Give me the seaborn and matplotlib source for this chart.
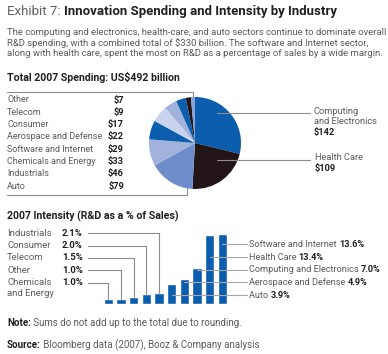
import numpy as np
import pandas as pd
import matplotlib
matplotlib.use('Agg')
import matplotlib.pyplot as plt
import seaborn as sns

# 2007 R&D spending (US$ billion), clockwise from the top of the pie
spend_industries = ['Computing and Electronics', 'Health Care', 'Auto', 'Industrials',
                    'Chemicals and Energy', 'Software and Internet', 'Aerospace and Defense',
                    'Consumer', 'Telecom', 'Other']
spend_values = [142, 109, 79, 46, 33, 29, 22, 17, 9, 7]
spend_colors = ['#0B5DAE', '#221517', '#6E8DCB', '#A1B2DD', '#0B5DAE',
                '#C9D3EE', '#A1B2DD', '#0B5DAE', '#221517', '#86A0D8']

# 2007 intensity (R&D as % of sales), ascending
intensity_industries = ['Chemicals and Energy', 'Other', 'Telecom', 'Consumer', 'Industrials',
                        'Auto', 'Aerospace and Defense', 'Computing and Electronics',
                        'Health Care', 'Software and Internet']
intensity_values = [1.0, 1.0, 1.5, 2.0, 2.1, 3.9, 4.9, 7.0, 13.4, 13.6]

title_light = 'Exhibit 7: '
title_bold = 'Innovation Spending and Intensity by Industry'
intro = ['The computing and electronics, health-care, and auto sectors continue to dominate overall',
         'R&D spending, with a combined total of $330 billion. The software and Internet sector,',
         'along with health care, spent the most on R&D as a percentage of sales by a wide margin.']

sns.set_style('white')
plt.rcParams['font.family'] = ['Roboto', 'DejaVu Sans']

W, H = 388, 354
fig = plt.figure(figsize=(W / 100, H / 100), dpi=100)
fig.patch.set_facecolor('white')


def px_box(x, y, w, h):
    return [x / W, 1 - (y + h) / H, w / W, h / H]


GRAY = '#5b5b5d'
DARK = '#231f20'
LINE = '#8e8c8d'

ax_pie = fig.add_axes(px_box(149, 97, 92, 92))
ax_bar = fig.add_axes(px_box(102, 232.2, 126.7, 72.1))
ax0 = fig.add_axes([0, 0, 1, 1])
ax0.set_xlim(0, W)
ax0.set_ylim(H, 0)
ax0.axis('off')
ax0.patch.set_alpha(0)


def to_px(ax, x, y):
    d = ax.transData.transform((x, y))
    return ax0.transData.inverted().transform(d)


def text(x, y, s, size, color=GRAY, weight='normal', ha='left'):
    return ax0.text(x, y, s, fontsize=size, color=color, fontweight=weight,
                    ha=ha, va='center')


def text_pair(x, y, s1, s2, size, c1, c2, w1, w2):
    t1 = text(x, y, s1, size, c1, w1)
    ax0.annotate(s2, xy=(1, 0.5), xycoords=t1, fontsize=size, color=c2,
                 fontweight=w2, ha='left', va='center')


# header
text_pair(7, 11.5, title_light, title_bold, 9.5, '#5f6062', DARK, 'normal', 'bold')
for i, line in enumerate(intro):
    text(7, 32.3 + i * 10.5, line, 6.8)

# ---- pie ----
ax_pie.pie(spend_values, colors=spend_colors, startangle=90, counterclock=False,
           radius=1, wedgeprops=dict(linewidth=0))
ax_pie.set_xlim(-1, 1)
ax_pie.set_ylim(-1, 1)
ax_pie.set_aspect('equal')
ax_pie.axis('off')

text(7, 77.3, 'Total 2007 Spending: US$492 billion', 7.55, DARK, 'bold')
table = list(zip(spend_industries, spend_values))[2:][::-1]
for i, (name, val) in enumerate(table):
    y = 100 + i * 12.3
    text(7, y, name, 6.5)
    text(124, y, f'${val}', 6.7, DARK, 'bold', ha='right')

# bracket around the table
tx, ty = to_px(ax_pie, -0.04, 0.999)
ax0.plot([7, tx, tx], [91.5, 91.5, ty], color=LINE, lw=0.8)
bx, by = to_px(ax_pie, -0.17, -np.sqrt(1 - 0.17 ** 2))
ax0.plot([7, bx, bx], [195, 195, by], color=LINE, lw=0.8)

# callouts for the two largest slices
sx, _ = to_px(ax_pie, 0.47, 0)
ax0.plot([sx, 310], [113.3, 113.3], color=LINE, lw=0.8)
text(314, 111.7, 'Computing', 6.7)
text(314, 122, 'and Electronics', 6.7)
text(314, 132.3, f'${spend_values[0]}', 6.7, DARK, 'bold')
ax0.plot([sx, 310], [160, 160], color=LINE, lw=0.8)
text(315, 157.7, 'Health Care', 6.7)
text(315, 168.7, f'${spend_values[1]}', 6.7, DARK, 'bold')

# ---- bars ----
df = pd.DataFrame({'industry': intensity_industries, 'pct': intensity_values})
sns.barplot(data=df, x='industry', y='pct', order=intensity_industries,
            color='#0B5DAE', saturation=1, width=0.73, ax=ax_bar)
ax_bar.set_xlim(-0.5, len(df) - 0.5)
ax_bar.set_ylim(0, 14)
ax_bar.axis('off')

text(7, 216, '2007 Intensity (R&D as a % of Sales)', 7.55, DARK, 'bold')

# left-hand labels: five smallest, listed from the largest down
left_rows = [233.3, 245.7, 258, 270.3, 282.8]
for k, idx in enumerate(range(4, -1, -1)):
    y = left_rows[k]
    name = intensity_industries[idx]
    if name == 'Chemicals and Energy':
        text(7, y, 'Chemicals', 6.8)
        text(7, y + 10.4, 'and Energy', 6.8)
    else:
        text(7, y, name, 6.8)
    text(62, y, f'{intensity_values[idx]:.1f}%', 6.8, DARK, 'bold')
    cx, top = to_px(ax_bar, idx, intensity_values[idx])
    ax0.plot([88, cx, cx], [y, y, top], color=LINE, lw=0.8)

# right-hand labels: five largest
right_rows = [244.3, 257.0, 269.7, 282.3, 295.0]
for k, idx in enumerate(range(9, 4, -1)):
    y = right_rows[k]
    cx, _ = to_px(ax_bar, idx, 0)
    ax0.plot([cx, 247], [y, y], color='#a7a7a9', lw=0.8)
    text_pair(249, y, intensity_industries[idx] + ' ', f'{intensity_values[idx]:.1f}%',
              6.6, GRAY, DARK, 'normal', 'bold')

# footnotes
text_pair(7, 323.3, 'Note:', ' Sums do not add up to the total due to rounding.',
          7.0, DARK, GRAY, 'bold', 'normal')
text_pair(7, 345, 'Source:', ' Bloomberg data (2007), Booz & Company analysis',
          7.0, DARK, GRAY, 'bold', 'normal')

fig.savefig('out.png', dpi=100)
